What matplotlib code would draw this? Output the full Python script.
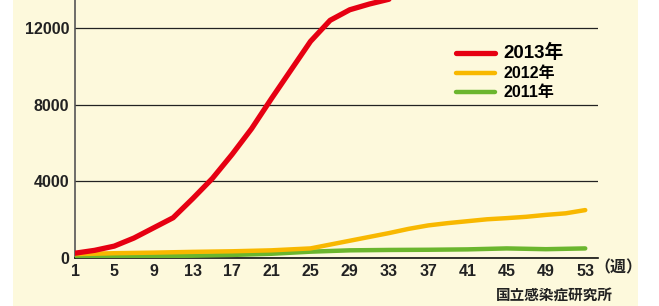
import matplotlib
matplotlib.use('Agg')
import matplotlib.pyplot as plt
from matplotlib.patches import Rectangle

# weekly cumulative reports
weeks_2013 = [1, 3, 5, 7, 9, 11, 13, 15, 17, 19, 21, 23, 25, 27, 29, 31, 33]
vals_2013 = [250, 400, 620, 1040, 1570, 2100, 3100, 4150, 5400, 6750, 8300, 9800,
             11300, 12400, 12950, 13250, 13500]

weeks_2012 = [1, 5, 9, 13, 17, 21, 25, 27, 29, 31, 33, 35, 37, 39, 41, 43, 45, 47, 49, 51, 53]
vals_2012 = [200, 250, 280, 320, 350, 400, 500, 700, 900, 1100, 1300, 1520, 1700, 1820,
             1920, 2020, 2080, 2150, 2250, 2330, 2500]

weeks_2011 = [1, 5, 9, 13, 17, 21, 25, 29, 33, 37, 41, 45, 49, 53]
vals_2011 = [80, 90, 100, 120, 160, 220, 330, 400, 420, 430, 450, 500, 460, 500]

labels = ['2013年', '2012年', '2011年']
colors = ['#E60012', '#F8B800', '#6BB62E']
yticks = [0, 4000, 8000, 12000]
xticks = list(range(1, 54, 4))

fonts = ['Liberation Sans', 'Noto Sans CJK JP']
plt.rcParams['font.family'] = fonts

W, H = 659, 306
fig = plt.figure(figsize=(W / 100, H / 100), dpi=100)
fig.patch.set_facecolor('white')
fig.patches.append(Rectangle((13 / W, 0), (638 - 13) / W, 1, transform=fig.transFigure,
                             facecolor='#FDF9DC', edgecolor='none', zorder=-5))

ax = fig.add_axes([75 / W, 48 / H, (598 - 75) / W, (H - 48) / H])
ax.set_facecolor('none')
ax.set_zorder(2)

ax.plot(weeks_2011, vals_2011, color=colors[2], lw=3.2, solid_capstyle='round',
        label=labels[2], zorder=3)
ax.plot(weeks_2012, vals_2012, color=colors[1], lw=3.2, solid_capstyle='round',
        label=labels[1], zorder=4)
ax.plot(weeks_2013, vals_2013, color=colors[0], lw=3.8, solid_capstyle='round',
        label=labels[0], zorder=5)

ax.set_xlim(1, 54.3)
ax.set_ylim(0, 13460)
ax.set_yticks(yticks)
ax.set_xticks(xticks)
ax.set_yticklabels([str(v) for v in yticks], fontsize=11.5, fontweight='bold', color='#222222')
ax.set_xticklabels([str(v) for v in xticks], fontsize=11.5, fontweight='bold', color='#222222')
ax.tick_params(length=0, pad=4)
ax.grid(axis='y', color='#222222', lw=0.9)
for s in ['top', 'right']:
    ax.spines[s].set_visible(False)
ax.spines['left'].set_color('#555555')
ax.spines['bottom'].set_color('#111111')
ax.spines['left'].set_linewidth(1.2)
ax.spines['bottom'].set_linewidth(1.2)
ax.set_axisbelow(True)

handles, labs = ax.get_legend_handles_labels()
order = [2, 1, 0]
leg = ax.legend([handles[i] for i in order], [labs[i] for i in order],
                loc='upper left', bbox_to_anchor=(442 / W, 1 - 30 / H),
                bbox_transform=fig.transFigure, frameon=False, fontsize=11,
                handlelength=2.6, handletextpad=0.5, labelspacing=0.28)
for t, fs in zip(leg.get_texts(), [13.5, 11.5, 11.5]):
    t.set_fontsize(fs)
    t.set_fontweight('bold')

fig.text(594 / W, 1 - 268 / H, '（週）', fontsize=11.5, fontweight='bold',
         va='center', ha='left', color='#222222')
fig.text(613 / W, 1 - 296 / H, '国立感染症研究所', fontsize=10.5, fontweight='bold',
         va='center', ha='right', color='#222222')

fig.savefig('out.png', dpi=100, facecolor='white')
